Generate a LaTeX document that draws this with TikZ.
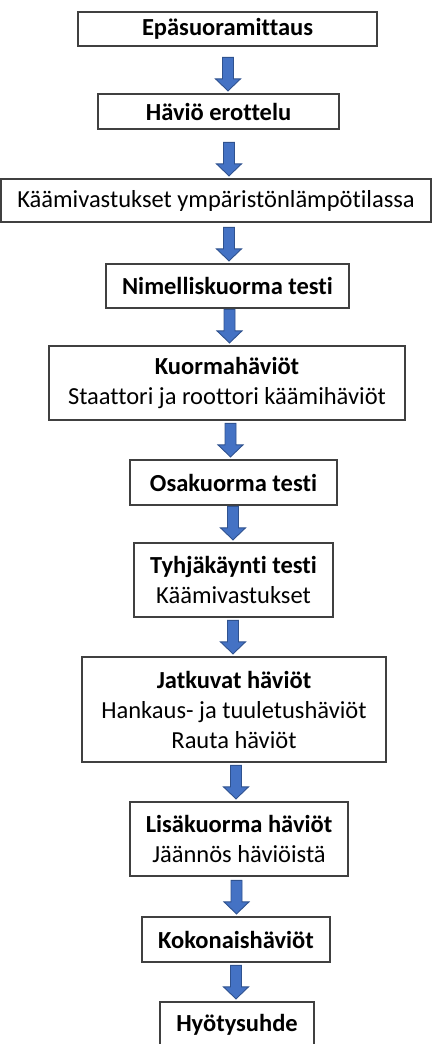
\documentclass[tikz,border=0pt]{standalone}
\usepackage{fontspec}
\setmainfont{Carlito}[Ligatures=NoCommon]
\definecolor{arrowblue}{HTML}{4472C4}
\definecolor{arrowedge}{HTML}{2F528F}
\definecolor{boxedge}{HTML}{404040}
\usetikzlibrary{calc}

\tikzset{
  stage/.style={draw=boxedge, line width=1.2pt, fill=white, inner sep=0pt,
    align=center, font=\fontsize{24.5}{30}\selectfont},
  flowarrow/.style={fill=arrowblue, draw=arrowedge, line width=0.9pt, line join=miter}
}
% block arrow at x = #1 (px), tip just above node #2
\newcommand{\flowarrow}[2]{%
  \path[flowarrow] let \p1=(#2.north) in
    (#1pt-5.5pt,\y1+36pt) -- (#1pt+5.5pt,\y1+36pt) -- (#1pt+5.5pt,\y1+14.5pt)
    -- (#1pt+12.5pt,\y1+14.5pt) -- (#1pt,\y1+2.5pt) -- (#1pt-12.5pt,\y1+14.5pt)
    -- (#1pt-5.5pt,\y1+14.5pt) -- cycle;}

\begin{document}
\begin{tikzpicture}[x=1pt, y=-1pt]
  \useasboundingbox (0,0) rectangle (437,1044);
  \clip (0,0) rectangle (437,1044);

  % Stages
  \node[stage, minimum width=299pt, minimum height=34pt] (epa) at (227.5,29) {\textbf{Epäsuoramittaus}};
  \node[stage, minimum width=241pt, minimum height=35pt] (erottelu) at (218.5,111.5) {\textbf{Häviö erottelu}};
  \node[stage, minimum width=430pt, minimum height=43pt] (kaami) at (216,200.5) {Käämivastukset ympäristönlämpötilassa};
  \node[stage, minimum width=243pt, minimum height=44pt] (nimellis) at (227.5,286) {\textbf{Nimelliskuorma testi}};
  \node[stage, minimum width=356pt, minimum height=74pt] (kuorma) at (227,383) {\textbf{Kuormahäviöt}\\Staattori ja roottori käämihäviöt};
  \node[stage, minimum width=207pt, minimum height=45pt] (osakuorma) at (233.5,482.5) {\textbf{Osakuorma testi}};
  \node[stage, minimum width=199pt, minimum height=74pt] (tyhja) at (233.5,580) {\textbf{Tyhjäkäynti testi}\\Käämivastukset};
  \node[stage, minimum width=304pt, minimum height=105pt] (jatkuvat) at (234,709.5) {\textbf{Jatkuvat häviöt}\\Hankaus- ja tuuletushäviöt\\Rauta häviöt};
  \node[stage, minimum width=218pt, minimum height=74pt] (lisa) at (239,839) {\textbf{Lisäkuorma häviöt}\\Jäännös häviöistä};
  \node[stage, minimum width=188pt, minimum height=45pt] (kokonais) at (236,939.5) {\textbf{Kokonaishäviöt}};
  \node[stage, minimum width=154pt, minimum height=45pt] (hyoty) at (237,1024.5) {\textbf{Hyötysuhde}};

  % Arrows
  \flowarrow{228}{erottelu}
  \flowarrow{229}{kaami}
  \flowarrow{229}{nimellis}
  \flowarrow{229.5}{kuorma}
  \flowarrow{230.5}{osakuorma}
  \flowarrow{233}{tyhja}
  \flowarrow{233}{jatkuvat}
  \flowarrow{236}{lisa}
  \flowarrow{236.5}{kokonais}
  \flowarrow{236}{hyoty}
\end{tikzpicture}
\end{document}
